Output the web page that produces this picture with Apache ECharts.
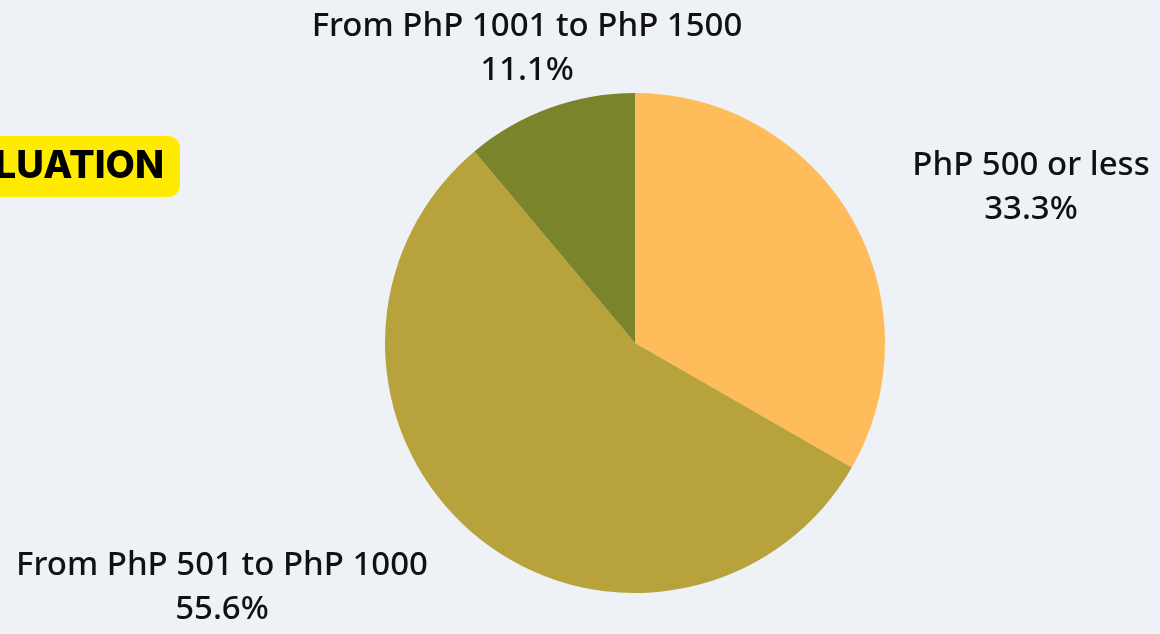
<!DOCTYPE html>
<html><head><meta charset="utf-8">
<script src="https://cdn.jsdelivr.net/npm/echarts@6/dist/echarts.min.js"></script>
<style>html,body{margin:0;padding:0;background:#eef2f7;}#c{width:1160px;height:634px;}</style>
</head><body><div id="c"></div>
<script>
const categories = ["PhP 500 or less", "From PhP 501 to PhP 1000", "From PhP 1001 to PhP 1500"];
const values = [33.3, 55.6, 11.1];
const colors = ["#FFBC5A", "#B8A23B", "#7A842A"];
const badgeText = "EVALUATION";

const labelPos = [
  {x: 1031, y: 188},
  {x: 222, y: 588},
  {x: 527, y: 49}
];

const chart = echarts.init(document.getElementById('c'));
chart.setOption({
  backgroundColor: '#eef2f7',
  animation: false,
  graphic: [
    {type: 'rect', shape: {x: -20, y: 136, width: 200, height: 61, r: 12}, style: {fill: '#FFEB00'}},
    {type: 'text', style: {text: badgeText, x: 164, y: 167, textAlign: 'right', textVerticalAlign: 'middle',
      font: '800 38px Inter', fill: '#000'}}
  ],
  series: [{
    type: 'pie',
    center: [635, 343],
    radius: 250,
    startAngle: 90,
    clockwise: true,
    data: categories.map((n, i) => ({name: n, value: values[i], itemStyle: {color: colors[i]}})),
    label: {
      show: true,
      formatter: p => p.name + '\n' + p.value.toFixed(1) + '%',
      fontFamily: 'Noto Sans', fontSize: 33, fontWeight: 500, color: '#111',
      lineHeight: 44, align: 'center'
    },
    labelLine: {show: false},
    labelLayout: p => ({x: labelPos[p.dataIndex].x, y: labelPos[p.dataIndex].y, align: 'center', verticalAlign: 'middle'})
  }]
});
</script></body></html>
